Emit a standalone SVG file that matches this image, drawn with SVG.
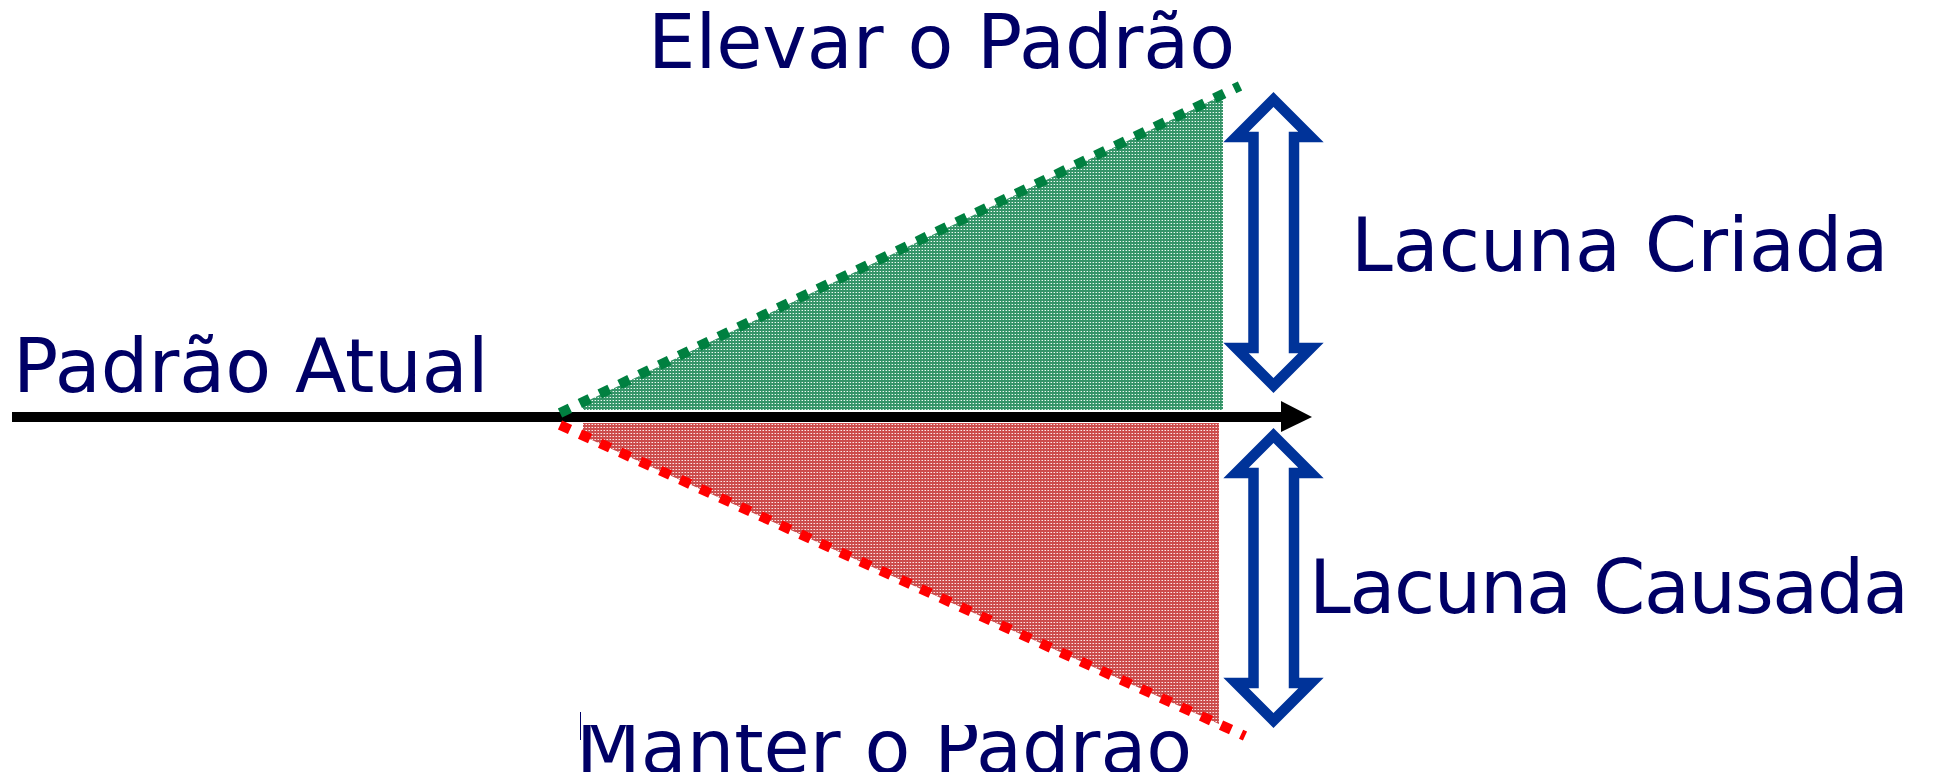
<svg xmlns="http://www.w3.org/2000/svg" width="1934" height="772" viewBox="0 0 1934 772">
  <style>
    .lbl { font-family: "DejaVu Sans", Verdana, "Liberation Sans", sans-serif; font-size: 75px; fill: #000066; }
    .dbl { fill: #ffffff; stroke: #003399; stroke-width: 10.5; stroke-linejoin: miter; stroke-miterlimit: 10; }
    .dash { fill: none; stroke-width: 10; stroke-dasharray: 11 11; stroke-linecap: butt; }
  </style>
  <defs>
    <pattern id="patGreen" width="3" height="3" patternUnits="userSpaceOnUse">
      <rect width="3" height="3" fill="#359468"/>
      <rect x="1" y="1" width="1" height="1" fill="#eef8f3"/>
      <rect x="0" y="1" width="1" height="1" fill="#7cc0a0"/>
    </pattern>
    <pattern id="patRed" width="3" height="3" patternUnits="userSpaceOnUse">
      <rect width="3" height="3" fill="#cc4c4c"/>
      <rect x="1" y="1" width="1" height="1" fill="#fbe8e8"/>
      <rect x="0" y="1" width="1" height="1" fill="#e69a9a"/>
    </pattern>
    <clipPath id="clipManter">
      <rect x="577" y="725" width="700" height="60"/>
    </clipPath>
  </defs>
  <rect width="1934" height="772" fill="#ffffff"/>

  <g id="fill-elevar">
    <polygon points="583,410 583,403 1223,95 1223,410" fill="url(#patGreen)"/>
  </g>
  <g id="fill-manter">
    <polygon points="583,423 583,436 1219,724 1219,423" fill="url(#patRed)"/>
  </g>

  <g id="connectors">
    <line x1="12" y1="417" x2="1283" y2="417" stroke="#000000" stroke-width="10"/>
    <polygon points="1281,401 1312,417 1281,432" fill="#000000"/>
    <line class="dash" x1="560" y1="413" x2="1240" y2="86" stroke="#008040"/>
    <line class="dash" x1="560" y1="425" x2="1245" y2="736" stroke="#ff0000"/>
  </g>

  <g id="arrow-criada">
    <polygon class="dbl" points="1273.5,99.5 1311,137 1294,137 1294,348 1311,348 1273.5,385.5 1236,348 1253.5,348 1253.5,137 1236,137"/>
  </g>
  <g id="arrow-causada">
    <polygon class="dbl" points="1273.5,435.5 1311,473 1294,473 1294,683 1311,683 1273.5,720.5 1236,683 1253.5,683 1253.5,473 1236,473"/>
  </g>

  <g id="label-elevar"><text class="lbl" x="648" y="68">Elevar o Padrão</text></g>
  <g id="label-atual"><text class="lbl" x="13" y="392">Padrão Atual</text></g>
  <g id="label-criada"><text class="lbl" x="1351" y="271">Lacuna Criada</text></g>
  <g id="label-causada"><text class="lbl" x="1309" y="613" textLength="600">Lacuna Causada</text></g>
  <g id="label-manter">
    <line x1="580.5" y1="712" x2="580.5" y2="740" stroke="#000066" stroke-width="1"/>
    <text class="lbl" x="576" y="773" clip-path="url(#clipManter)">Manter o Padrão</text>
  </g>
</svg>
